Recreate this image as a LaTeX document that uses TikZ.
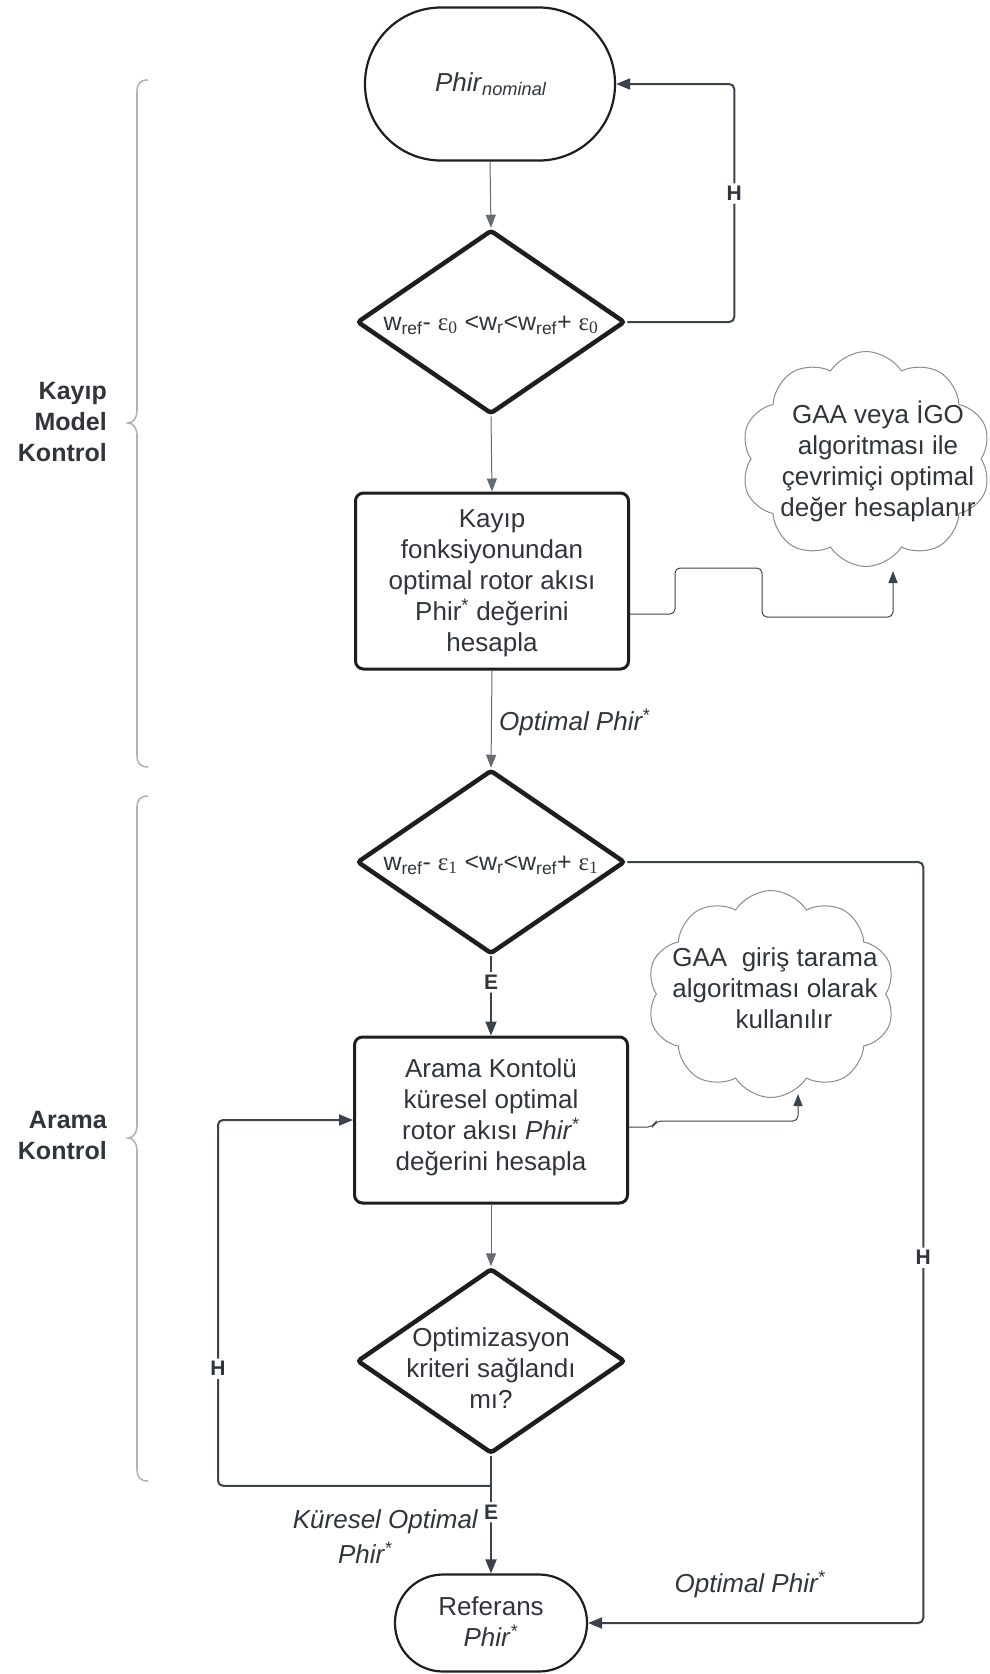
\documentclass[tikz,border=0pt]{standalone}
\usepackage{fontspec}
\setmainfont{Liberation Sans}
\newfontfamily\epsfont{Liberation Serif}
\usetikzlibrary{shapes.geometric,shapes.symbols,arrows.meta,calc}
\definecolor{textc}{HTML}{30353D}
\definecolor{shapec}{HTML}{1E1E1E}
\definecolor{linec}{HTML}{3B424D}
\definecolor{thinc}{HTML}{656B74}
\definecolor{cloudc}{HTML}{8C8C8C}
\definecolor{bracec}{HTML}{B3B3B3}
\newcommand{\epsz}[1]{{\epsfont ε\textsubscript{#1}}}
\tikzset{
  txt/.style={font=\fontsize{26}{31}\selectfont, text=textc, align=center, inner sep=0pt},
  dtxt/.style={font=\fontsize{25}{30}\selectfont, text=textc, align=center, inner sep=0pt},
  side/.style={font=\bfseries\fontsize{25}{31}\selectfont, text=textc, align=right, inner sep=0pt},
  itl/.style={font=\itshape\fontsize{26}{31}\selectfont, text=textc, align=center, inner sep=0pt},
  lbl/.style={font=\bfseries\fontsize{21}{24}\selectfont, text=textc, fill=white, inner sep=3pt},
  stad/.style={draw=shapec, line width=2.2pt, fill=white, inner sep=0pt},
  procbox/.style={draw=shapec, line width=3pt, rounded corners=8pt, minimum width=273pt, fill=white, inner sep=0pt},
  diam/.style={diamond, draw=shapec, line width=4.5pt, rounded corners=3pt, minimum width=268pt, minimum height=184pt, inner sep=0pt, fill=white},
  cloudbox/.style={cloud, cloud puffs=10, cloud puff arc=115, aspect=1.15, draw=cloudc, line width=1pt, inner sep=0pt, fill=white},
  thinconn/.style={draw=thinc, line width=1pt, -{Triangle[length=13pt,width=10pt]}, color=thinc},
  loopconn/.style={draw=linec, line width=2pt, rounded corners=5pt, -{Triangle[length=14pt,width=11pt]}, color=linec},
  noteconn/.style={draw=cloudc, line width=1pt, rounded corners=5pt, -{Triangle[length=12pt,width=9pt]}, color=linec},
  bracepath/.style={draw=bracec, line width=1.6pt},
}
\begin{document}
\begin{tikzpicture}[x=1pt,y=-1pt]
\useasboundingbox[fill=white] (0,0) rectangle (990,1674);

% braces
\draw[bracepath] (148,80) .. controls (140,80) and (137,84) .. (137,92) -- (137,411)
  .. controls (137,418) and (133,423) .. (128,423) .. controls (133,423) and (137,428) .. (137,435)
  -- (137,755) .. controls (137,763) and (140,767) .. (148,767);
\draw[bracepath] (148,796) .. controls (140,796) and (137,800) .. (137,808) -- (137,1126)
  .. controls (137,1133) and (133,1138) .. (128,1138) .. controls (133,1138) and (137,1143) .. (137,1150)
  -- (137,1469) .. controls (137,1477) and (140,1481) .. (148,1481);

\node[side] (s1) at (107,422) [anchor=east] {Kayıp\\Model\\Kontrol};
\node[side] (s2) at (107,1136) [anchor=east] {Arama\\Kontrol};

% main shapes
\node[stad, rounded corners=76pt, minimum width=250pt, minimum height=153pt] (st) at (490,84) {};
\node[txt] (stt) at (491,84) {\textit{Phir}\textsubscript{\textit{nominal}}};

\node[diam] (d1) at (491,322) {};
\node[dtxt] (d1t) at (491,325) {w\textsubscript{ref}- \epsz{0} <w\textsubscript{r}<w\textsubscript{ref}+ \epsz{0}};

\node[procbox, minimum height=176pt] (b1) at (492,581) {};
\node[txt] (b1t) at (492,583) {Kayıp\\fonksiyonundan\\optimal rotor akısı\\Phir\textsuperscript{*} değerini\\hesapla};

\node[diam] (d2) at (491,862) {};
\node[dtxt] (d2t) at (491,865) {w\textsubscript{ref}- \epsz{1} <w\textsubscript{r}<w\textsubscript{ref}+ \epsz{1}};

\node[procbox, minimum height=166pt] (b2) at (491,1120) {};
\node[txt] (b2t) at (491,1117) {Arama Kontolü\\küresel optimal\\rotor akısı \textit{Phir}\textsuperscript{*}\\değerini hesapla};

\node[diam, minimum height=185pt] (d3) at (491,1361) {};
\node[txt] (d3t) at (491,1368) {Optimizasyon\\kriteri sağlandı\\mı?};

\node[stad, rounded corners=48pt, minimum width=192pt, minimum height=97pt] (ref) at (491,1623) {};
\node[txt] (reft) at (491,1622) {Referans\\\textit{Phir}\textsuperscript{*}};

% clouds
\node[cloudbox, minimum width=250pt, minimum height=215pt] (c1) at (866,459) {};
\node[txt] (c1t) at (878,461) {GAA veya İGO\\algoritması ile\\çevrimiçi optimal\\değer hesaplanır};
\node[cloudbox, minimum width=248pt, minimum height=207pt] (c2) at (771,994) {};
\node[txt] (c2t) at (775,988) {GAA\ \ giriş tarama\\algoritması olarak\\\hspace*{18pt}kullanılır};

% connectors
\draw[thinconn] (st.south) -- (d1.north);
\draw[thinconn] (d1.south) -- (b1.north);
\draw[thinconn] (b1.south) -- (d2.north);
\node[itl, anchor=west] (op1) at (499,722) {Optimal Phir\textsuperscript{*}};
\draw[loopconn] (d1.east) -- ++(107,0) |- node[lbl, pos=0.27] (h1) {H} (st.east);

\draw[noteconn] ($(b1.east)+(0,33)$) -- ++(45,0) -- ++(0,-46) -- ++(87,0) -- ++(0,49) -- ++(131,0) -- ++(0,-46);

\draw[loopconn] (d2.south) -- node[lbl, pos=0.33] (e1) {E} (b2.north);
\draw[thinconn] (b2.south) -- (d3.north);
\draw[noteconn] ($(b2.east)+(0,7)$) -- ++(24,0) -- ++(3,-6) -- ++(142,0) -- ++(0,-27);

\coordinate (br) at ($(d3.south)+(0,30)$);
\draw[loopconn] (d3.south) -- node[lbl, pos=0.48] (e2) {E} (ref.north);
\draw[loopconn] (br) -| node[lbl, pos=0.66] (h2) {H} ($(b2.west)+(-135,0)$) -- (b2.west);
\draw[loopconn] (d2.east) -- ++(296,0) |- node[lbl, pos=0.26] (h3) {H} (ref.east);

\node[itl] (op2) at (750,1584) {Optimal Phir\textsuperscript{*}};
\node[itl, anchor=east] (ko) at (478,1522) {Küresel Optimal};
\node[itl] (kp) at (365,1553) {Phir\textsuperscript{*}};
\end{tikzpicture}
\end{document}
